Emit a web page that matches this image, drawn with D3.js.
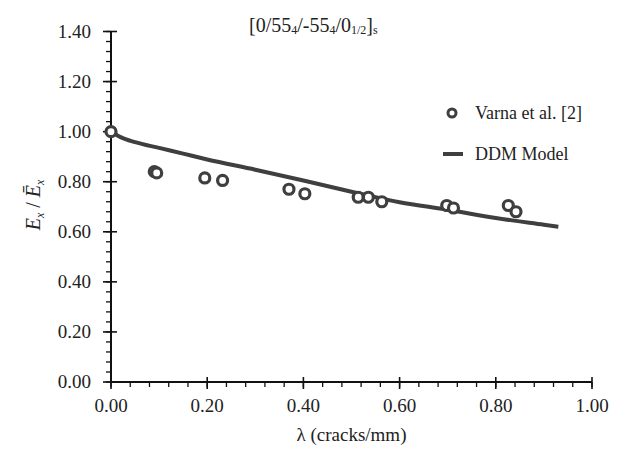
<!DOCTYPE html>
<html><head><meta charset="utf-8">
<script src="https://cdn.jsdelivr.net/npm/d3@7"></script>
<style>body{margin:0;background:#fff}svg{display:block}</style>
</head><body><svg id="c" width="627" height="449" font-family="'Liberation Serif', 'Times New Roman', Times, serif"></svg>
<script>
// Data
const varnaX = [0.0, 0.09, 0.095, 0.195, 0.232, 0.370, 0.403, 0.514, 0.535, 0.563, 0.698, 0.712, 0.826, 0.842];
const varnaY = [1.00, 0.840, 0.835, 0.815, 0.805, 0.770, 0.752, 0.738, 0.738, 0.720, 0.705, 0.695, 0.705, 0.680];
const ddmX = [0.0, 0.02, 0.05, 0.10, 0.15, 0.20, 0.30, 0.40, 0.50, 0.60, 0.70, 0.80, 0.90, 0.93];
const ddmY = [1.0, 0.978, 0.958, 0.935, 0.912, 0.889, 0.848, 0.805, 0.760, 0.718, 0.688, 0.655, 0.628, 0.620];
const xTicks = [0, 0.2, 0.4, 0.6, 0.8, 1.0];
const yTicks = [0, 0.2, 0.4, 0.6, 0.8, 1.0, 1.2, 1.4];
const legendLabels = ["Varna et al. [2]", "DDM Model"];

const svg = d3.select("#c");
const x = d3.scaleLinear().domain([0, 1]).range([111, 592]);
const y = d3.scaleLinear().domain([0, 1.4]).range([382, 31.5]);
const ink = "#111", mark = "#3f3f3f", txt = "#222";

// minor ticks
const xMinor = d3.range(0, 1.0001, 0.04);
const yMinor = d3.range(0, 1.4001, 0.04);
svg.append("g").selectAll("line").data(xMinor).join("line")
  .attr("x1", d => x(d)).attr("x2", d => x(d)).attr("y1", y(0)).attr("y2", y(0) + 5)
  .attr("stroke", ink).attr("stroke-width", 1.3);
svg.append("g").selectAll("line").data(yMinor).join("line")
  .attr("y1", d => y(d)).attr("y2", d => y(d)).attr("x1", x(0) - 5).attr("x2", x(0))
  .attr("stroke", ink).attr("stroke-width", 1.3);
// major ticks
svg.append("g").selectAll("line").data(xTicks).join("line")
  .attr("x1", d => x(d)).attr("x2", d => x(d)).attr("y1", y(0) - 5).attr("y2", y(0) + 7)
  .attr("stroke", ink).attr("stroke-width", 1.6);
svg.append("g").selectAll("line").data(yTicks).join("line")
  .attr("y1", d => y(d)).attr("y2", d => y(d)).attr("x1", x(0) - 8).attr("x2", x(0) + 6)
  .attr("stroke", ink).attr("stroke-width", 1.6);
// axis lines
svg.append("line").attr("x1", x(0)).attr("x2", x(1)).attr("y1", y(0)).attr("y2", y(0)).attr("stroke", ink).attr("stroke-width", 2);
svg.append("line").attr("x1", x(0)).attr("x2", x(0)).attr("y1", y(0)).attr("y2", y(1.4)).attr("stroke", ink).attr("stroke-width", 2);

// tick labels
svg.append("g").selectAll("text").data(xTicks).join("text")
  .attr("x", d => x(d)).attr("y", 412).attr("text-anchor", "middle").attr("fill", txt)
  .attr("font-size", 19).text(d => d.toFixed(2));
svg.append("g").selectAll("text").data(yTicks).join("text")
  .attr("x", 91).attr("y", d => y(d) + 6).attr("text-anchor", "end").attr("fill", txt)
  .attr("font-size", 19).text(d => d.toFixed(2));

// axis titles
svg.append("text").attr("x", x(0.5)).attr("y", 441).attr("text-anchor", "middle").attr("fill", txt)
  .attr("font-size", 19).text("λ (cracks/mm)");
const yl = svg.append("text").attr("transform", "translate(40,205) rotate(-90)").attr("fill", txt)
  .attr("text-anchor", "middle").attr("font-size", 20);
yl.append("tspan").attr("font-style", "italic").text("E");
yl.append("tspan").attr("font-style", "italic").attr("font-size", 12).attr("dy", 4).text("x");
yl.append("tspan").attr("dy", -4).text(" / ");
yl.append("tspan").attr("font-style", "italic").text("Ē");
yl.append("tspan").attr("font-style", "italic").attr("font-size", 12).attr("dy", 4).text("x");

// title
const t = svg.append("text").attr("x", 249).attr("y", 32).attr("font-size", 20).attr("fill", txt);
const parts = [["[0/55", 0], ["4", 1], ["/-55", 0], ["4", 1], ["/0", 0], ["1/2", 1], ["]", 0], ["s", 1]];
let prevSub = 0;
parts.forEach(([s, sub]) => {
  const dy = sub && !prevSub ? 2 : (!sub && prevSub ? -2 : 0);
  t.append("tspan").attr("dy", dy).attr("font-size", sub ? 12 : 20).text(s);
  prevSub = sub;
});

// DDM line
const lineData = ddmX.map((d, i) => [d, ddmY[i]]);
svg.append("path").datum(lineData)
  .attr("d", d3.line().x(d => x(d[0])).y(d => y(d[1])).curve(d3.curveMonotoneX))
  .attr("fill", "none").attr("stroke", mark).attr("stroke-width", 4).attr("stroke-linecap", "butt");

// Varna markers
const pts = varnaX.map((d, i) => [d, varnaY[i]]);
svg.append("g").selectAll("circle").data(pts).join("circle")
  .attr("cx", d => x(d[0])).attr("cy", d => y(d[1])).attr("r", 5)
  .attr("fill", "#fff").attr("stroke", mark).attr("stroke-width", 3.2);

// legend
svg.append("circle").attr("cx", 452).attr("cy", 113).attr("r", 4).attr("fill", "#fff").attr("stroke", mark).attr("stroke-width", 3);
svg.append("text").attr("x", 475).attr("y", 119).attr("font-size", 18).attr("fill", txt).text(legendLabels[0]);
svg.append("line").attr("x1", 443).attr("x2", 463).attr("y1", 154).attr("y2", 154).attr("stroke", mark).attr("stroke-width", 4);
svg.append("text").attr("x", 475).attr("y", 160).attr("font-size", 18).attr("fill", txt).text(legendLabels[1]);
</script></body></html>
